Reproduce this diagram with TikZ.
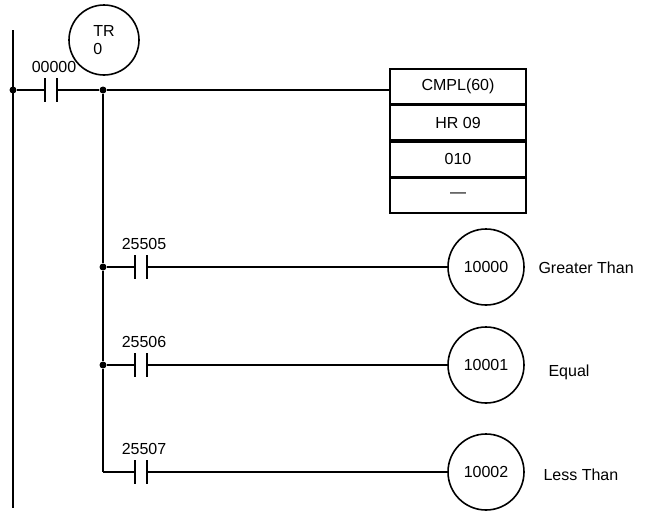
\documentclass[tikz,border=0pt]{standalone}
\usepackage{fontspec}
\setmainfont{Liberation Sans}
\usetikzlibrary{positioning}
\tikzset{
  wire/.style={line width=1.6pt},
  coil/.style={circle,draw,line width=1.6pt,minimum size=76pt,inner sep=0pt},
  cell/.style={draw,line width=1.6pt,minimum width=136pt,minimum height=34.7pt,inner sep=0pt},
  junc/.style={circle,fill,inner sep=0pt,minimum size=7pt},
  lbl/.style={font=\fontsize{16}{18}\selectfont},
}
\begin{document}
\begin{tikzpicture}[x=1pt,y=-1pt,lbl]
\useasboundingbox (0,0) rectangle (645,515);
%rails
\coordinate (railtop) at (13,30);
\coordinate (railbot) at (13,508);
\draw[wire] (railtop) -- (railbot);
\node[junc] (j0) at (13,90) {};
\node[junc] (j1) at (103,90) {};
\node[junc] (j2) at (103,267) {};
\node[junc] (j3) at (103,365) {};
\coordinate (j4) at (103,472);
\draw[wire] (j1) -- (j2) -- (j3) -- (j4);
%contacts
\foreach \nm/\x/\y/\txt in {c0/51/90/00000,c1/141/267/25505,c2/141/365/25506,c3/141/472/25507}{
  \coordinate (\nm) at (\x,\y);
  \draw[wire] (\x-6,\y-12) -- (\x-6,\y+12);
  \draw[wire] (\x+6,\y-12) -- (\x+6,\y+12);
  \node[anchor=south] (\nm t) at (\x+3,\y-14) {\txt};
}
\draw[wire] (j0) -- ([xshift=-6pt]c0);
\draw[wire] ([xshift=6pt]c0) -- (j1);
%TR
\node[coil,minimum size=70pt] (tr) at (104,40) {};
\node[align=left] (trt) at (104,40) {TR\\0};
%box
\node[cell] (b1) at (458,86.5) {CMPL(60)};
\node[cell,below=0pt of b1] (b2) {HR 09};
\node[cell,below=0pt of b2] (b3) {010};
\node[cell,below=0pt of b3] (b4) {---};
\draw[wire] (j1) -- (b1.west |- j1);
%coils
\node[coil] (k1) at (486,267) {10000};
\node[coil] (k2) at (486,365) {10001};
\node[coil] (k3) at (486,472) {10002};
\node[anchor=west] (n1) at (535,268) {Greater Than};
\node[anchor=west] (n2) at (545,372) {Equal};
\node[anchor=west] (n3) at (540,475) {Less Than};
\foreach \j/\c/\k in {j2/c1/k1,j3/c2/k2,j4/c3/k3}{
  \draw[wire] (\j) -- ([xshift=-6pt]\c);
  \draw[wire] ([xshift=6pt]\c) -- (\k);
}
\end{tikzpicture}
\end{document}
